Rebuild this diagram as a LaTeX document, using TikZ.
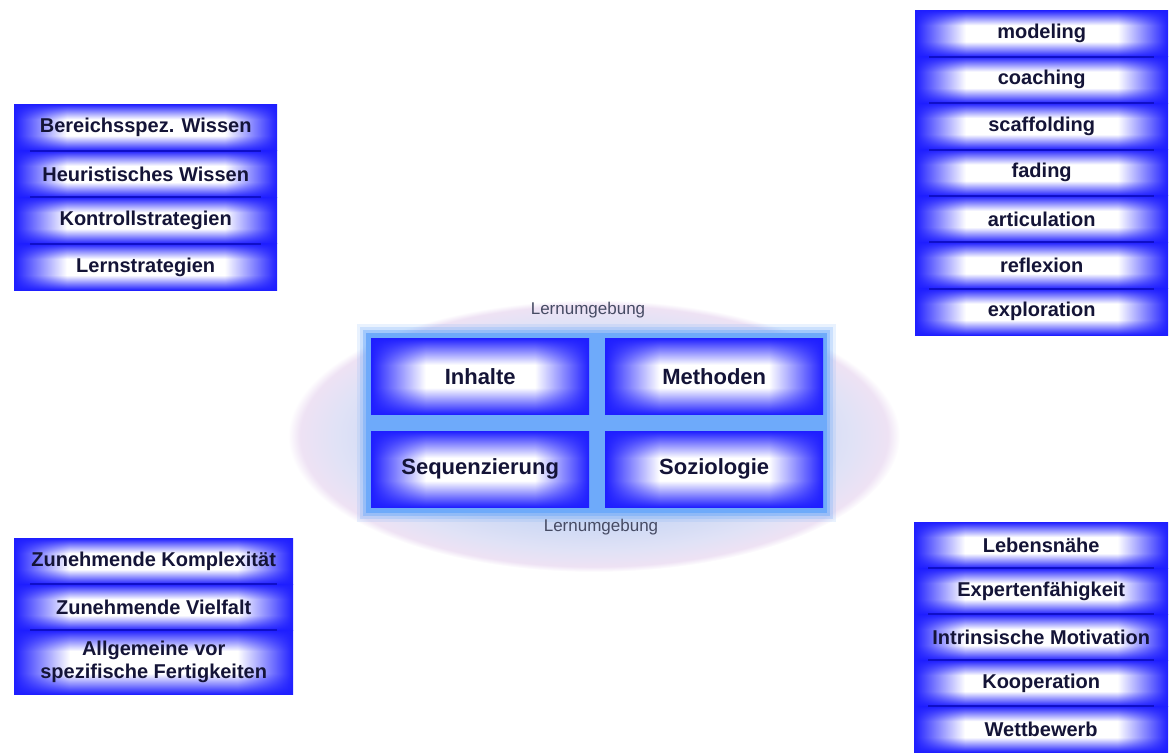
\documentclass[tikz,border=0pt]{standalone}
\usepackage{fontspec}
\setmainfont{Liberation Sans}
\definecolor{bblue}{RGB}{30,30,255}
\definecolor{sepblue}{RGB}{15,15,200}
\definecolor{txt}{RGB}{20,20,55}
\definecolor{lbl}{RGB}{70,75,100}
\definecolor{ellin}{RGB}{200,214,244}
\definecolor{ellmid}{RGB}{224,226,246}
\definecolor{ellout}{RGB}{238,226,244}
\definecolor{glow}{RGB}{110,170,250}
\pgfdeclarefunctionalshading{cfun}{\pgfpoint{-50bp}{-50bp}}{\pgfpoint{50bp}{50bp}}{}{
 abs 25 div 0.3 sub 0.7 div dup 0 lt {pop 0} if dup 1 gt {pop 1} if
 exch abs 25 div 0.5 sub 0.5 div dup 0 lt {pop 0} if dup 1 gt {pop 1} if
 1 exch sub exch 1 exch sub mul
 0.882 mul 0.118 add dup 1
}
\pgfdeclarefunctionalshading{rowfun}{\pgfpoint{-50bp}{-50bp}}{\pgfpoint{50bp}{50bp}}{}{
 abs 25 div 0.35 sub 0.65 div dup 0 lt {pop 0} if dup 1 gt {pop 1} if
 exch abs 25 div 0.6 sub 0.4 div dup 0 lt {pop 0} if dup 1 gt {pop 1} if
 1 exch sub exch 1 exch sub mul
 0.882 mul 0.118 add dup 1
}
\pgfdeclareradialshading{ellshade}{\pgfpoint{0bp}{0bp}}{color(0bp)=(ellin); color(15bp)=(ellin); color(21bp)=(ellmid); color(24bp)=(ellout); color(25bp)=(white); color(50bp)=(white)}
\tikzset{
  lbox/.style={rectangle, inner sep=0pt, anchor=north west, shade, shading=rowfun, text=txt,
    font=\fontsize{20}{23}\selectfont\bfseries, align=center},
  cbox/.style={rectangle, inner sep=0pt, anchor=north west, shade, shading=cfun, text=txt, font=\fontsize{22}{26}\selectfont\bfseries, minimum width=218, minimum height=76},
  lbl/.style={text=lbl, font=\fontsize{17}{20}\selectfont, inner sep=0pt},
  sepline/.style={draw=sepblue, line width=2pt}
}
\begin{document}
\begin{tikzpicture}[x=1pt,y=-1pt]
\useasboundingbox (0,0) rectangle (1170,753);
% environment ellipse
\shade[shading=ellshade] (594,436) ellipse [x radius=306, y radius=136];
% glow behind centre boxes
\foreach \d/\o in {9/0.15,6/0.25,3/0.45}{
  \fill[glow, opacity=\o] (366-\d,333-\d) rectangle (827+\d,513+\d);
}
\fill[glow] (366,333) rectangle (827,513);
% centre boxes
\node[cbox] (inh) at (371,338) {Inhalte};
\node[cbox] (met) at (605,338) {Methoden};
\node[cbox] (seq) at (371,431) {Sequenzierung};
\node[cbox] (soz) at (605,431) {Soziologie};
\node[lbl] (lu1) at (588,310) {Lernumgebung};
\node[lbl] (lu2) at (601,527) {Lernumgebung};
% top-left list
\node[lbox, minimum width=263, minimum height=46.5] (a1) at (14,104) {Bereichsspez. Wissen};
\node[lbox, minimum width=263, minimum height=46.5] (a2) at (14,150.5) {Heuristisches Wissen};
\node[lbox, minimum width=263, minimum height=46.5] (a3) at (14,197) {Kontrollstrategien};
\node[lbox, minimum width=263, minimum height=46.5] (a4) at (14,243.5) {Lernstrategien};
\foreach \n in {a1,a2,a3}{\draw[sepline] ([xshift=16]\n.south west) -- ([xshift=-16]\n.south east);}
% top-right list
\node[lbox, minimum width=253, minimum height=46.4] (b1) at (915,10) {modeling};
\node[lbox, minimum width=253, minimum height=46.4] (b2) at (915,56.4) {coaching};
\node[lbox, minimum width=253, minimum height=46.4] (b3) at (915,102.8) {scaffolding};
\node[lbox, minimum width=253, minimum height=46.4] (b4) at (915,149.2) {fading};
\node[lbox, minimum width=253, minimum height=46.4] (b5) at (915,195.6) {articulation};
\node[lbox, minimum width=253, minimum height=46.4] (b6) at (915,242) {reflexion};
\node[lbox, minimum width=253, minimum height=46.4] (b7) at (915,288.4) {exploration};
\foreach \n in {b1,b2,b3,b4,b5,b6}{\draw[sepline] ([xshift=14]\n.south west) -- ([xshift=-14]\n.south east);}
% bottom-left list
\node[lbox, minimum width=279, minimum height=46] (c1) at (14,538) {Zunehmende Komplexität};
\node[lbox, minimum width=279, minimum height=46] (c2) at (14,584) {Zunehmende Vielfalt};
\node[lbox, minimum width=279, minimum height=64] (c3) at (14,630) {Allgemeine vor\\spezifische Fertigkeiten};
\foreach \n in {c1,c2}{\draw[sepline] ([xshift=16]\n.south west) -- ([xshift=-16]\n.south east);}
% bottom-right list
\node[lbox, minimum width=254, minimum height=46] (d1) at (914,522) {Lebensnähe};
\node[lbox, minimum width=254, minimum height=46] (d2) at (914,568) {Expertenfähigkeit};
\node[lbox, minimum width=254, minimum height=46] (d3) at (914,614) {Intrinsische Motivation};
\node[lbox, minimum width=254, minimum height=46] (d4) at (914,660) {Kooperation};
\node[lbox, minimum width=254, minimum height=46] (d5) at (914,706) {Wettbewerb};
\foreach \n in {d1,d2,d3,d4}{\draw[sepline] ([xshift=14]\n.south west) -- ([xshift=-14]\n.south east);}
\end{tikzpicture}
\end{document}
